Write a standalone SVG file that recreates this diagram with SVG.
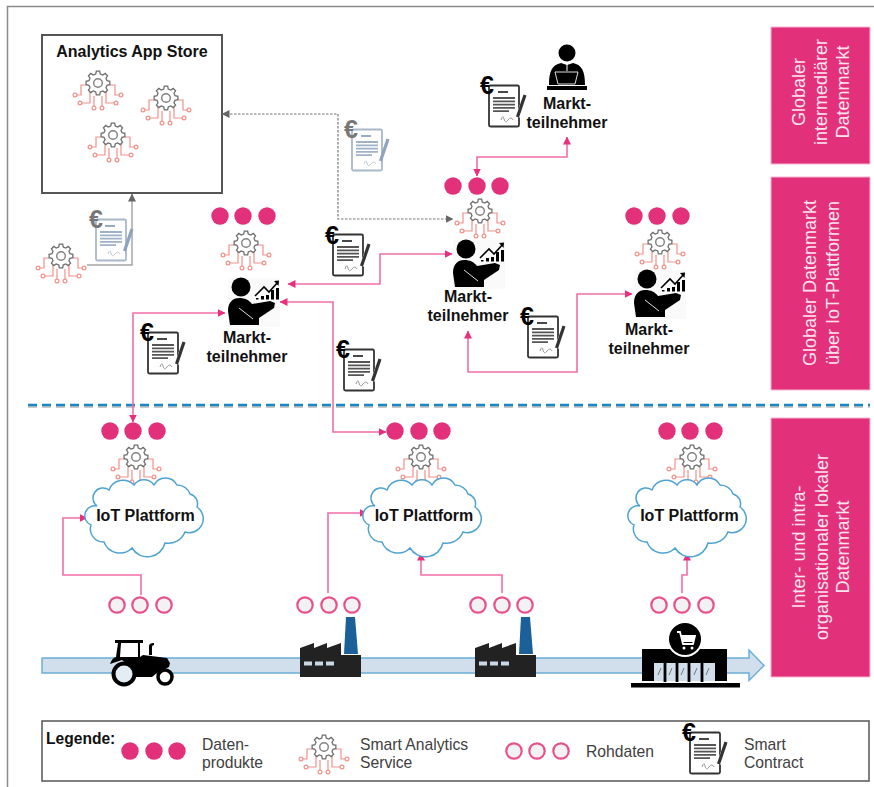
<svg xmlns="http://www.w3.org/2000/svg" xmlns:xlink="http://www.w3.org/1999/xlink" width="874" height="787" viewBox="0 0 874 787">
<style>
text{font-family:"Liberation Sans",Arial,sans-serif}
.lbl{font-size:16px;font-weight:bold;fill:#111;text-anchor:middle}
.leg{font-size:15.7px;fill:#404040}
.side{font-size:18px;fill:#fbe3ee;text-anchor:middle}
.euro{font-size:25px;font-weight:bold;fill:#000;text-anchor:middle}
.euro.g{fill:#777}
.pink{fill:none;stroke:#f26ea6;stroke-width:1.6}
.gr{fill:none;stroke:#777;stroke-width:1.2;stroke-dasharray:2.5 1.5}
.box{fill:#e3307a;stroke:#f6b6d0;stroke-width:1}
.sd{fill:#e3307a}
.rd{fill:#f2f2f2;stroke:#e8508c;stroke-width:2.2}
.cloud{fill:#fff;stroke:#4fa3d1;stroke-width:1.5}
.bk{fill:#000}
</style>
<defs>
<marker id="ap" viewBox="0 0 8 8" refX="7.5" refY="4" markerWidth="8" markerHeight="8" markerUnits="userSpaceOnUse" orient="auto-start-reverse"><path d="M0,0L8,4L0,8Z" fill="#e8307e"/></marker>
<marker id="ag" viewBox="0 0 8 8" refX="7.5" refY="4" markerWidth="8" markerHeight="8" markerUnits="userSpaceOnUse" orient="auto-start-reverse"><path d="M0,0L8,4L0,8Z" fill="#666"/></marker>
<g id="gear">
<g fill="none" stroke="#f4908a" stroke-width="1.2">
<path d="M-12,2H-17V12H-21M-8,7V20H-16M-4,13V23M4,13V23M8,7V20H16M12,2H17V12H21"/>
<circle cx="-23" cy="12" r="1.9"/><circle cx="-18" cy="20" r="1.9"/><circle cx="-4" cy="25" r="1.9"/><circle cx="4" cy="25" r="1.9"/><circle cx="18" cy="20" r="1.9"/><circle cx="23" cy="12" r="1.9"/>
</g>
<path d="M-2.25,-9.02L-1.67,-11.88L1.67,-11.88L2.25,-9.02L4.79,-7.97L7.22,-9.58L9.58,-7.22L7.97,-4.79L9.02,-2.25L11.88,-1.67L11.88,1.67L9.02,2.25L7.97,4.79L9.58,7.22L7.22,9.58L4.79,7.97L2.25,9.02L1.67,11.88L-1.67,11.88L-2.25,9.02L-4.79,7.97L-7.22,9.58L-9.58,7.22L-7.97,4.79L-9.02,2.25L-11.88,1.67L-11.88,-1.67L-9.02,-2.25L-7.97,-4.79L-9.58,-7.22L-7.22,-9.58L-4.79,-7.97Z" fill="#fff" stroke="#6e6e6e" stroke-width="1.3"/>
<circle r="4.3" fill="#fff" stroke="#808080" stroke-width="1.4"/>
</g>
<g id="doc">
<rect x="-15" y="-20.5" width="30" height="41" rx="1.5" fill="#fff" stroke="#333" stroke-width="1.8"/>
<path d="M-6,-14H4" stroke="#333" stroke-width="1.8"/>
<path d="M-11,-8H11M-11,-4.7H11M-11,-1.4H11M-11,1.9H11M-11,5.2H5" stroke="#555" stroke-width="1.8"/>
<path d="M-3,14Q-1,8 0,13T4,14T9,14" fill="none" stroke="#999" stroke-width="1"/>
<path d="M22,-11L14,11" stroke="#fff" stroke-width="5"/>
<path d="M21,-11L13.5,11" stroke="#333" stroke-width="3.2"/>
</g>
<g id="docg">
<rect x="-15" y="-20.5" width="30" height="41" rx="1.5" fill="#fff" stroke="#a9b8c9" stroke-width="1.8"/>
<path d="M-6,-14H4" stroke="#8ea3bd" stroke-width="1.8"/>
<path d="M-11,-8H11M-11,-4.7H11M-11,-1.4H11M-11,1.9H11M-11,5.2H5" stroke="#9fb1c6" stroke-width="1.8"/>
<path d="M-3,14Q-1,8 0,13T4,14T9,14" fill="none" stroke="#c4ccd4" stroke-width="1"/>
<path d="M21,-11L13.5,11" stroke="#8ea3bd" stroke-width="3.2"/>
</g>
<g id="person">
<rect x="-13" y="-9" width="52" height="49" fill="#fafafa"/>
<circle r="9.500" class="bk"/>
<path d="M-13,24C-13,15 -8,11 -2,11C4,11 8,13 11,17L29,14L34,16L33,21L18,31V38H-11Z" class="bk"/>
<path d="M-2,21L12,32" stroke="#ddd" stroke-width="1"/>
<path d="M14,9L23,0L28,5L37,-5" fill="none" stroke="#000" stroke-width="1.6"/>
<path d="M33,-6L38,-6.500L37.500,-1Z" class="bk"/>
<path d="M15,11h2.500v1.500h-2.500zM20,9h3v3.500h-3zM25,8h3v4.500h-3zM30,3h3v9.500h-3zM35,1h3v11.500h-3z" class="bk"/>
</g>
<g id="factory">
<path d="M344,654L346,617H355L358,654Z" fill="#1c6099"/>
<path d="M300,677V648L314,643V648L327,643V648L341,643V655H361V677Z" fill="#222"/>
<path d="M304,661.500h8v4h-8zM315,661.500h8v4h-8zM326,661.500h8v4h-8z" fill="#c9d8e6"/>
</g>
</defs>

<rect width="874" height="787" fill="#fff"/>
<path d="M7.500,787V6.500H874" fill="none" stroke="#8a8a8a" stroke-width="1.5"/>

<g id="stream">
<path d="M42,658H749V650L764,665.500L749,680.500V673H42Z" fill="#d0dfeb" stroke="#6aaed6" stroke-width="1.5"/>
</g>
<g id="divider">
<path d="M28,407H870" stroke="#c8c8c8" stroke-width="2" stroke-dasharray="9 5"/>
<path d="M28,405H870" stroke="#1b87c2" stroke-width="2.500" stroke-dasharray="9 5"/>
</g>

<g id="side-labels">
<g id="label-intermediaer"><rect class="box" x="771" y="27" width="99" height="137"/>
<text class="side" transform="translate(805,92) rotate(-90)">Globaler</text>
<text class="side" transform="translate(827,92) rotate(-90)">intermediärer</text>
<text class="side" transform="translate(849,92) rotate(-90)">Datenmarkt</text></g>
<g id="label-global"><rect class="box" x="771" y="177" width="99" height="213"/>
<text class="side" transform="translate(816,283) rotate(-90)">Globaler Datenmarkt</text>
<text class="side" transform="translate(839,283) rotate(-90)">über IoT-Plattformen</text></g>
<g id="label-lokal"><rect class="box" x="771" y="418" width="99" height="259"/>
<text class="side" transform="translate(805,547) rotate(-90)">Inter- und intra-</text>
<text class="side" transform="translate(828,547) rotate(-90)">organisationaler lokaler</text>
<text class="side" transform="translate(849,547) rotate(-90)">Datenmarkt</text></g>
</g>

<g id="store">
<rect x="42" y="35" width="180" height="158" fill="#fff" stroke="#555" stroke-width="2"/>
<text class="lbl" x="132" y="57">Analytics App Store</text>
<use href="#gear" x="98" y="83"/><use href="#gear" x="166" y="98"/><use href="#gear" x="113" y="135"/>
</g>
<g id="service-left"><use href="#gear" x="61" y="256"/></g>

<g id="connectors">
<path class="gr" d="M222,114H338V219H453" marker-start="url(#ag)" marker-end="url(#ag)"/>
<path d="M87,265H132V194" fill="none" stroke="#a6a6a6" stroke-width="1.5" marker-end="url(#ag)"/>
<path class="pink" d="M288,284H380V254H452" marker-start="url(#ap)" marker-end="url(#ap)"/>
<path class="pink" d="M477,176V157H567V137" marker-start="url(#ap)" marker-end="url(#ap)"/>
<path class="pink" d="M225,313H133V422" marker-start="url(#ap)" marker-end="url(#ap)"/>
<path class="pink" d="M280,302H333V432H386" marker-start="url(#ap)" marker-end="url(#ap)"/>
<path class="pink" d="M468,331V372H577V294H632" marker-start="url(#ap)" marker-end="url(#ap)"/>
<path class="pink" d="M141,595V575H63V518H87" marker-end="url(#ap)"/>
<path class="pink" d="M328,593V513H367" marker-end="url(#ap)"/>
<path class="pink" d="M502,593V575H421V553" marker-end="url(#ap)"/>
<path class="pink" d="M682,593V575H687V553" marker-end="url(#ap)"/>
</g>

<g id="contract-store"><use href="#docg" x="111" y="240"/><text class="euro g" x="96" y="228">€</text></g>
<g id="contract-intermediary"><use href="#docg" x="367" y="150"/><text class="euro g" x="351" y="138">€</text></g>
<g id="contract-top"><use href="#doc" x="504" y="106"/><text class="euro" x="487" y="94">€</text></g>
<g id="contract-mid"><use href="#doc" x="348" y="255"/><text class="euro" x="332" y="244">€</text></g>
<g id="contract-left"><use href="#doc" x="163" y="353"/><text class="euro" x="147" y="341">€</text></g>
<g id="contract-lower"><use href="#doc" x="359" y="370"/><text class="euro" x="343" y="358">€</text></g>
<g id="contract-right"><use href="#doc" x="543" y="337"/><text class="euro" x="527" y="325">€</text></g>

<g id="participant-top">
<circle cx="567" cy="53" r="8.500" class="bk"/>
<path d="M549,85C549,71 552,65 561,63L567,65L573,63C582,65 585,71 585,85Z" class="bk"/>
<path d="M555,72H578L575,84H558Z" fill="#000" stroke="#ddd" stroke-width="1"/>
<path d="M567,64V71" stroke="#fff" stroke-width="1"/>
<rect x="547" y="86" width="40" height="4" class="bk"/>
<text class="lbl" x="567" y="109">Markt-</text>
<text class="lbl" x="567" y="128">teilnehmer</text>
</g>

<g id="participant-1">
<circle class="sd" cx="220" cy="216" r="8.700"/><circle class="sd" cx="243" cy="216" r="8.700"/><circle class="sd" cx="267" cy="216" r="8.700"/>
<use href="#gear" x="246" y="243"/>
<use href="#person" x="241" y="287"/>
<text class="lbl" x="247" y="343">Markt-</text>
<text class="lbl" x="247" y="362">teilnehmer</text>
</g>
<g id="participant-2">
<circle class="sd" cx="453" cy="186" r="8.700"/><circle class="sd" cx="477" cy="186" r="8.700"/><circle class="sd" cx="500" cy="186" r="8.700"/>
<use href="#gear" x="480" y="211"/>
<use href="#person" x="466" y="249"/>
<text class="lbl" x="468" y="302">Markt-</text>
<text class="lbl" x="468" y="321">teilnehmer</text>
</g>
<g id="participant-3">
<circle class="sd" cx="634" cy="216" r="8.700"/><circle class="sd" cx="657" cy="216" r="8.700"/><circle class="sd" cx="681" cy="216" r="8.700"/>
<use href="#gear" x="660" y="242"/>
<use href="#person" x="647" y="279"/>
<text class="lbl" x="649" y="335">Markt-</text>
<text class="lbl" x="649" y="354">teilnehmer</text>
</g>

<g id="iot-1">
<circle class="sd" cx="110" cy="431" r="8.700"/><circle class="sd" cx="133" cy="431" r="8.700"/><circle class="sd" cx="157" cy="431" r="8.700"/>
<use href="#gear" x="136" y="457"/>
<path class="cloud" transform="translate(144,519)" d="M-47,-13A10,10 0 0 1 -35,-29A15,15 0 0 1 -10,-34A12,12 0 0 1 10,-34A13,13 0 0 1 33,-34A14,14 0 0 1 46,-25A10,10 0 0 1 53,-12A14,14 0 0 1 41,13A18,18 0 0 1 21,24A18,18 0 0 1 -12,29A17,17 0 0 1 -40,23A13,13 0 0 1 -53,6A10,10 0 0 1 -47,-13Z"/>
<text class="lbl" x="145.500" y="521">IoT Plattform</text>
</g>
<g id="iot-2">
<circle class="sd" cx="395" cy="431" r="8.700"/><circle class="sd" cx="419" cy="431" r="8.700"/><circle class="sd" cx="442" cy="431" r="8.700"/>
<use href="#gear" x="421" y="457"/>
<path class="cloud" transform="translate(422,519)" d="M-47,-13A10,10 0 0 1 -35,-29A15,15 0 0 1 -10,-34A12,12 0 0 1 10,-34A13,13 0 0 1 33,-34A14,14 0 0 1 46,-25A10,10 0 0 1 53,-12A14,14 0 0 1 41,13A18,18 0 0 1 21,24A18,18 0 0 1 -12,29A17,17 0 0 1 -40,23A13,13 0 0 1 -53,6A10,10 0 0 1 -47,-13Z"/>
<text class="lbl" x="424" y="521">IoT Plattform</text>
</g>
<g id="iot-3">
<circle class="sd" cx="667" cy="431" r="8.700"/><circle class="sd" cx="690" cy="431" r="8.700"/><circle class="sd" cx="714" cy="431" r="8.700"/>
<use href="#gear" x="692" y="457"/>
<path class="cloud" transform="translate(687,519)" d="M-47,-13A10,10 0 0 1 -35,-29A15,15 0 0 1 -10,-34A12,12 0 0 1 10,-34A13,13 0 0 1 33,-34A14,14 0 0 1 46,-25A10,10 0 0 1 53,-12A14,14 0 0 1 41,13A18,18 0 0 1 21,24A18,18 0 0 1 -12,29A17,17 0 0 1 -40,23A13,13 0 0 1 -53,6A10,10 0 0 1 -47,-13Z"/>
<text class="lbl" x="689.500" y="521">IoT Plattform</text>
</g>

<g id="tractor">
<circle class="rd" cx="117" cy="605" r="7.700"/><circle class="rd" cx="140" cy="605" r="7.700"/><circle class="rd" cx="164" cy="605" r="7.700"/>
<path d="M115,640H143V643H140V657L143,655L167,658L170,663L169,667L157,673L152,677H133V668L122,660L110,664Q112,658 116,657L118,643H115Z" class="bk"/>
<path d="M121,643H138V657H120Z" fill="#fff"/>
<path d="M149,655V646Q149,643 154,643V645Q152,645 152,647V655Z" class="bk"/>
<circle cx="124" cy="674" r="10.500" fill="#e4edf4" stroke="#000" stroke-width="4"/>
<circle cx="165" cy="677" r="7" fill="#fff" stroke="#000" stroke-width="3.500"/>
</g>
<g id="factory-1">
<circle class="rd" cx="305" cy="605" r="7.700"/><circle class="rd" cx="329" cy="605" r="7.700"/><circle class="rd" cx="352" cy="605" r="7.700"/>
<use href="#factory"/>
</g>
<g id="factory-2">
<circle class="rd" cx="478" cy="605" r="7.700"/><circle class="rd" cx="502" cy="605" r="7.700"/><circle class="rd" cx="525" cy="605" r="7.700"/>
<use href="#factory" x="175"/>
</g>
<g id="shop">
<circle class="rd" cx="659" cy="605" r="7.700"/><circle class="rd" cx="682" cy="605" r="7.700"/><circle class="rd" cx="706" cy="605" r="7.700"/>
<rect x="642" y="649" width="85" height="32" class="bk"/>
<rect x="654" y="663" width="61" height="18" fill="#d0dfeb"/>
<path d="M665,662V682M677,662V682M689,662V682M702,662V682" stroke="#000" stroke-width="2.800"/>
<path d="M661,668L658,675M672,668L669,675M684,668L681,675M697,668L694,675M709,668L706,675" stroke="#777" stroke-width="1"/>
<rect x="631" y="683" width="109" height="4.500" class="bk"/>
<circle cx="685" cy="639" r="18" fill="#fff"/><circle cx="685" cy="639" r="16" class="bk"/>
<path d="M677,632H680L683,644H693L695,636H681" fill="none" stroke="#fff" stroke-width="1.800"/>
<path d="M681,636H695L693,642H683Z" fill="#fff"/>
<circle cx="684" cy="648" r="1.500" fill="#fff"/><circle cx="692" cy="648" r="1.500" fill="#fff"/>
</g>

<g id="legend">
<rect x="42" y="721" width="827" height="60" fill="#fff" stroke="#555" stroke-width="1.500"/>
<text x="46" y="744" font-size="15.600" font-weight="bold" fill="#111">Legende:</text>
<circle class="sd" cx="130" cy="751" r="8.700"/><circle class="sd" cx="154" cy="751" r="8.700"/><circle class="sd" cx="177" cy="751" r="8.700"/>
<text class="leg" x="202" y="750">Daten-</text><text class="leg" x="202" y="768">produkte</text>
<use href="#gear" x="324" y="747"/>
<text class="leg" x="360" y="750">Smart Analytics</text><text class="leg" x="360" y="768">Service</text>
<circle class="rd" cx="514" cy="751" r="7.700"/><circle class="rd" cx="537" cy="751" r="7.700"/><circle class="rd" cx="561" cy="751" r="7.700"/>
<text class="leg" x="586" y="757">Rohdaten</text>
<use href="#doc" x="705" y="753"/><text class="euro" x="689" y="741">€</text>
<text class="leg" x="744" y="750">Smart</text><text class="leg" x="744" y="768">Contract</text>
</g>
</svg>
